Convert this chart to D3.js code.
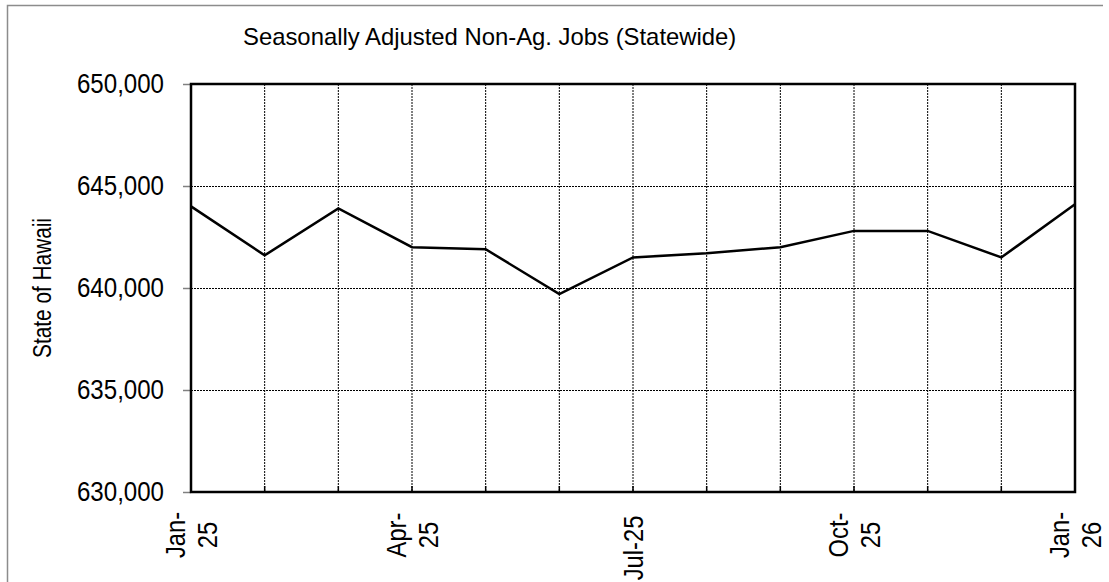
<!DOCTYPE html>
<html>
<head>
<meta charset="utf-8">
<script src="https://cdn.jsdelivr.net/npm/d3@7"></script>
<style>
  body { margin: 0; background: #fff; }
  svg { display: block; }
  text { font-family: "Liberation Sans", Arial, sans-serif; fill: #000; }
</style>
</head>
<body>
<script>
// monthly values
var months = ["Jan-25", "Feb-25", "Mar-25", "Apr-25", "May-25", "Jun-25", "Jul-25",
              "Aug-25", "Sep-25", "Oct-25", "Nov-25", "Dec-25", "Jan-26"];
var jobs = [644000, 641600, 643900, 642000, 641900, 639700, 641500,
            641700, 642000, 642800, 642800, 641500, 644100];
// only some months get a label, split in lines like the original
var xLabels = {"Jan-25": ["Jan-", "25"], "Apr-25": ["Apr-", "25"], "Jul-25": ["Jul-25"],
               "Oct-25": ["Oct-", "25"], "Jan-26": ["Jan-", "26"]};
var yTicks = [630000, 635000, 640000, 645000, 650000];

var W = 1109, H = 582;
var m = {left: 191, right: 1075, top: 84, bottom: 492};

// squeeze text horizontally (the original uses a narrow face)
function narrow(sel, f) {
    sel.each(function() {
        var len = this.getComputedTextLength();
        d3.select(this).attr("textLength", len * f).attr("lengthAdjust", "spacingAndGlyphs");
    });
}

var svg = d3.select("body").append("svg")
    .attr("width", W)
    .attr("height", H);

// outer frame (only left & top visible in the picture)
svg.append("path")
    .attr("d", "M7.5," + H + "V5.5H1103")
    .attr("fill", "none")
    .attr("stroke", "#8c8c8c")
    .attr("stroke-width", 1.5);

var x = d3.scalePoint().domain(months).range([m.left, m.right]);
var y = d3.scaleLinear().domain([630000, 650000]).range([m.bottom, m.top]);

// gridlines
svg.append("g").selectAll("line.vg")
    .data(months.slice(1, -1))
  .enter().append("line")
    .attr("class", "vg")
    .attr("x1", function(d) { return x(d); })
    .attr("x2", function(d) { return x(d); })
    .attr("y1", m.top).attr("y2", m.bottom)
    .attr("stroke", "#000")
    .attr("stroke-width", 1)
    .attr("stroke-dasharray", "2,1");

svg.append("g").selectAll("line.hg")
    .data(yTicks.slice(1, -1))
  .enter().append("line")
    .attr("class", "hg")
    .attr("x1", m.left).attr("x2", m.right)
    .attr("y1", function(d) { return Math.round(y(d)) + 0.5; })
    .attr("y2", function(d) { return Math.round(y(d)) + 0.5; })
    .attr("stroke", "#000")
    .attr("stroke-width", 1)
    .attr("stroke-dasharray", "2,1");

// y axis
var yAxis = d3.axisLeft(y)
    .tickValues(yTicks)
    .tickSize(8)
    .tickPadding(19)
    .tickFormat(d3.format(","));

var gy = svg.append("g")
    .attr("transform", "translate(" + m.left + ",0)")
    .call(yAxis);
gy.select(".domain").remove();
gy.selectAll(".tick line").attr("stroke", "#808080").attr("stroke-width", 1.5);
gy.selectAll(".tick text")
    .attr("font-size", 28)
    .attr("font-family", null)
    .attr("fill", "#000")
    .call(narrow, 0.86);

// x axis labels
var xg = svg.append("g");
xg.selectAll("line.xt")
    .data(months)
  .enter().append("line")
    .attr("class", "xt")
    .attr("x1", function(d) { return x(d); })
    .attr("x2", function(d) { return x(d); })
    .attr("y1", m.bottom).attr("y2", m.bottom - 6)
    .attr("stroke", "#000")
    .attr("stroke-width", 1.5);

var lab = xg.selectAll("text")
    .data(months.filter(function(d) { return xLabels[d]; }))
  .enter().append("text")
    .attr("transform", function(d) { return "translate(" + x(d) + ",535) rotate(-90)"; })
    .attr("text-anchor", "middle")
    .attr("font-size", 27);

lab.each(function(d) {
    var lines = xLabels[d];
    var t = d3.select(this);
    var off = lines.length === 1 ? 10 : -6;
    lines.forEach(function(s, i) {
        t.append("tspan")
            .attr("x", lines.length === 1 ? -13 : 0)
            .attr("y", off + i * 32)
            .text(s);
    });
});
lab.selectAll("tspan").call(narrow, 0.88);

// plot frame
svg.append("rect")
    .attr("x", m.left).attr("y", m.top)
    .attr("width", m.right - m.left)
    .attr("height", m.bottom - m.top)
    .attr("fill", "none")
    .attr("stroke", "#000")
    .attr("stroke-width", 2.5);

// data line
var line = d3.line()
    .x(function(d, i) { return x(months[i]); })
    .y(function(d) { return y(d); });

svg.append("path")
    .datum(jobs)
    .attr("d", line)
    .attr("fill", "none")
    .attr("stroke", "#000")
    .attr("stroke-width", 2.5)
    .attr("stroke-linejoin", "miter");

// title
svg.append("text")
    .attr("x", 243)
    .attr("y", 45)
    .attr("font-size", 24)
    .text("Seasonally Adjusted Non-Ag. Jobs (Statewide)")
    .call(narrow, 495 / 498);

// y axis title
svg.append("text")
    .attr("transform", "translate(51," + ((m.top + m.bottom) / 2) + ") rotate(-90)")
    .attr("text-anchor", "middle")
    .attr("font-size", 26)
    .text("State of Hawaii")
    .each(function() {
        d3.select(this).attr("textLength", 140).attr("lengthAdjust", "spacingAndGlyphs");
    });
</script>
</body>
</html>
